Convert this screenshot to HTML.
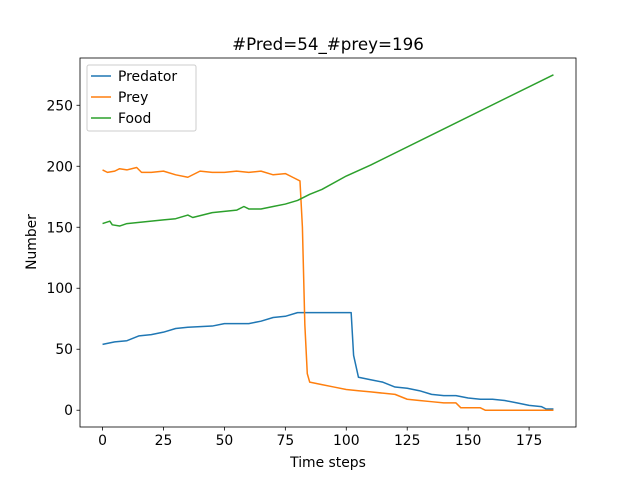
<!DOCTYPE html>
<html><head><meta charset="utf-8"><style>
body{margin:0;background:#fff;font-family:"DejaVu Sans","Liberation Sans",sans-serif}
</style></head><body>
<svg id="chart" width="640" height="480" xmlns="http://www.w3.org/2000/svg"></svg>
<script>
const predX=[0,5,10,15,20,25,30,35,45,50,60,65,70,75,80,102,103,105,110,115,120,125,130,135,140,145,150,155,160,165,170,175,180,182,185];
const predY=[54,56,57,61,62,64,67,68,69,71,71,73,76,77,80,80,45,27,25,23,19,18,16,13,12,12,10,9,9,8,6,4,3,1,1];
const preyX=[0,2,5,7,10,14,16,20,25,30,35,40,45,50,55,60,65,70,75,78,81,82,83,84,85,90,95,100,105,110,115,120,125,130,135,140,145,147,150,155,157,185];
const preyY=[197,195,196,198,197,199,195,195,196,193,191,196,195,195,196,195,196,193,194,191,188,150,70,30,23,21,19,17,16,15,14,13,9,8,7,6,6,2,2,2,0,0];
const foodX=[0,3,4,7,10,15,20,25,30,35,37,45,50,55,58,60,65,70,75,80,85,90,100,110,185];
const foodY=[153,155,152,151,153,154,155,156,157,160,158,162,163,164,167,165,165,167,169,172,177,181,192,201,275];
const xTicks=[0,25,50,75,100,125,150,175];
const yTicks=[0,50,100,150,200,250];
const L=80,R=576,T=58,B=427,xmin=-9.25,xmax=194.25,ymin=-13.75,ymax=288.75;
const sx=v=>L+(v-xmin)/(xmax-xmin)*(R-L);
const sy=v=>B-(v-ymin)/(ymax-ymin)*(B-T);
const svg=document.getElementById('chart');
const NS='http://www.w3.org/2000/svg';
function mk(tag,attrs,parent){const e=document.createElementNS(NS,tag);for(const k in attrs)e.setAttribute(k,attrs[k]);(parent||svg).appendChild(e);return e;}
function series(xs,ys,color,name){
  const p=mk('polyline',{points:xs.map((x,i)=>sx(x)+','+sy(ys[i])).join(' '),fill:'none',stroke:color,'stroke-width':1.5,'stroke-linejoin':'round'});
  
  
}
series(predX,predY,'#1f77b4','predator-line');
series(preyX,preyY,'#ff7f0e','prey-line');
series(foodX,foodY,'#2ca02c','food-line');
const frame=mk('rect',{x:L,y:T,width:R-L,height:B-T,fill:'none',stroke:'#000','stroke-width':0.8});


xTicks.forEach(v=>{
  mk('line',{x1:sx(v),x2:sx(v),y1:B,y2:B+3.5,stroke:'#000','stroke-width':0.8});
  const t=mk('text',{x:sx(v),y:B+18,'font-size':13.9,'text-anchor':'middle'});t.textContent=v;
  
  
});
yTicks.forEach(v=>{
  mk('line',{x1:L-3.5,x2:L,y1:sy(v),y2:sy(v),stroke:'#000','stroke-width':0.8});
  const t=mk('text',{x:L-7,y:sy(v)+5,'font-size':13.9,'text-anchor':'end'});t.textContent=v;
  
  
});
</script>
<svg style="position:absolute;left:0;top:0" width="640" height="480" xmlns="http://www.w3.org/2000/svg">
<text x="328" y="50" font-size="16.7" text-anchor="middle">#Pred=54_#prey=196</text>
<text x="328" y="467" font-size="13.9" text-anchor="middle">Time steps</text>
<text x="36" y="242" font-size="13.9" text-anchor="middle" transform="rotate(-90 36 242)">Number</text>
<g>
<rect x="87" y="65" width="109" height="66" rx="2" fill="#fff" fill-opacity="0.8" stroke="#ccc"/>
<line x1="91" x2="111" y1="76" y2="76" stroke="#1f77b4" stroke-width="1.5"/>
<text x="118" y="81" font-size="13.9">Predator</text>
<line x1="91" x2="111" y1="97" y2="97" stroke="#ff7f0e" stroke-width="1.5"/>
<text x="118" y="102" font-size="13.9">Prey</text>
<line x1="91" x2="111" y1="118" y2="118" stroke="#2ca02c" stroke-width="1.5"/>
<text x="118" y="123" font-size="13.9">Food</text>
</g>
</svg>
</body></html>
